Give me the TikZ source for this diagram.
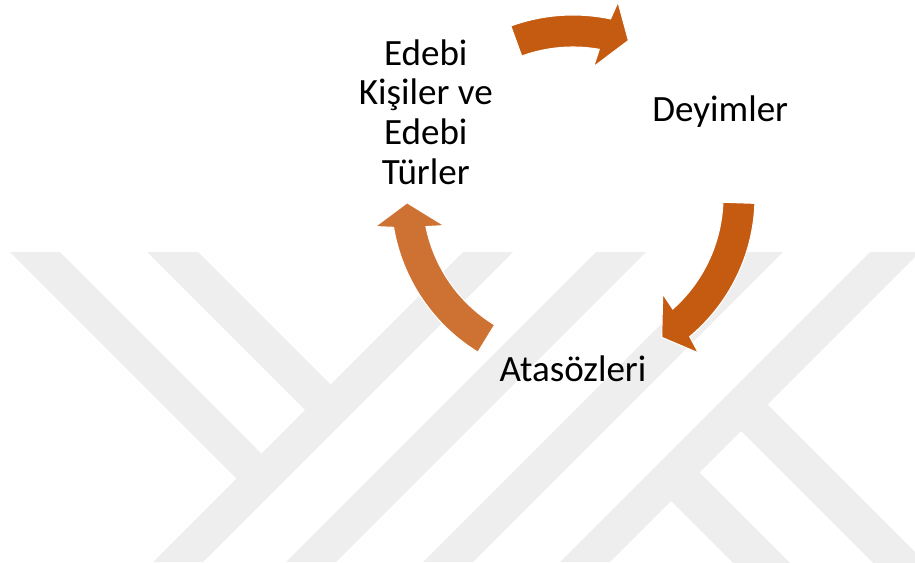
\documentclass[tikz,border=0pt]{standalone}
\usepackage{fontspec}
\setmainfont{Carlito}
\definecolor{arrdark}{RGB}{197,90,17}
\definecolor{arrlight}{RGB}{206,114,52}
\definecolor{wmgray}{RGB}{238,238,238}

\begin{document}
\begin{tikzpicture}[x=0.75pt, y=0.75pt,
  band/.style={fill=wmgray},
  itemtext/.style={font=\fontsize{27.8}{29.8}\selectfont, align=center, inner sep=0pt},
  cycarrow/.style={draw=white, line width=0.8pt}]

\useasboundingbox (0,0) rectangle (915,562);

% Watermark in the background, cut to the page
\begin{scope}
\clip (0,0) rectangle (915,562);
% The two short bands of the left Y
\fill [band] (10,310) -- (60,310) -- (266.5,103.5) -- (241.5,78.5) -- cycle;
\fill [band] (147,310) -- (198,310) -- (335.5,172.5) -- (310,147) -- cycle;
% The long slanted bands, from the top edge down to the bottom
\foreach \s in {715,848,985,1122}
  \fill [band] (\s-252,310) -- (\s-202,310) -- (\s-512,0) -- (\s-562,0) -- cycle;
% The two legs of the right K
\fill [band] (766.5,158.5) -- (740,132) -- (930,-58) -- (983,-58) -- cycle;
\fill [band] (698.5,90.5) -- (670,62) -- (790,-58) -- (847,-58) -- cycle;
\end{scope}

% Centre of the cycle
\coordinate (c) at (573,365);

\begin{scope}[shift={(c)}]
% Curved arrows, running clockwise: start angle / tip angle / colour
\foreach \a/\t/\col in {110/70.5/arrdark, -2/-57.7/arrdark, 238.5/182/arrlight}{
  \pgfmathsetmacro{\bo}{\t+8.5-0.9}
  \pgfmathsetmacro{\bi}{\t+8.5+0.9}
  \pgfmathsetmacro{\ho}{\t+8.5-2}
  \pgfmathsetmacro{\hi}{\t+8.5+2}
  \filldraw [cycarrow, fill=\col] (\a:150) -- (\a:182)
    arc [start angle=\a, end angle=\bo, radius=182]
    -- (\ho:200) -- (\t:166) -- (\hi:132) -- (\bi:150)
    arc [start angle=\bi, end angle=\a, radius=150] -- cycle;
}

% Texts of the three items
\node [itemtext] (edebi) at (150:170) {Edebi\\Kişiler ve\\Edebi\\Türler};
\node [itemtext] (deyim) at (30:170) {Deyimler};
\node [itemtext] (ataso) at (270:172) {Atasözleri};
\end{scope}

\end{tikzpicture}
\end{document}
